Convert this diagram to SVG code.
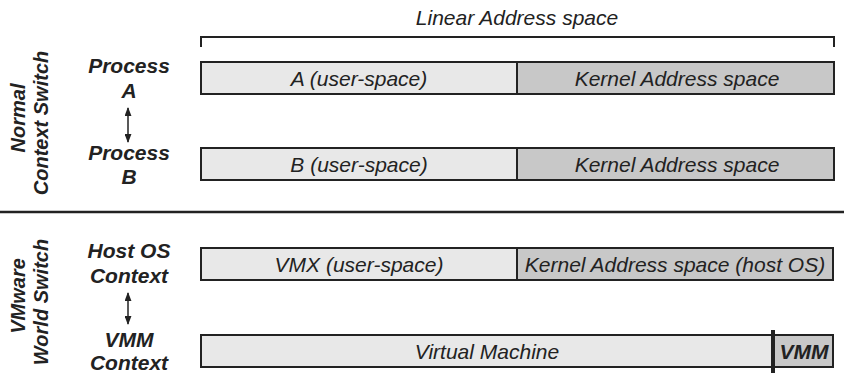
<svg xmlns="http://www.w3.org/2000/svg" width="844" height="373" viewBox="0 0 844 373">
<style>
.t{font-family:"Liberation Sans",Arial,sans-serif;font-style:italic;font-size:21px;fill:#222;text-anchor:middle}
.b{font-family:"Liberation Sans",Arial,sans-serif;font-style:italic;font-weight:bold;font-size:21px;fill:#222;text-anchor:middle}
.r{font-size:20px}
.u{fill:#e8e8e8;stroke:#222;stroke-width:2}
.k{fill:#c8c8c8;stroke:#222;stroke-width:2}
.c{stroke:#222;stroke-width:1.5;fill:none}
</style>
<defs>
<marker id="ah" viewBox="0 0 10 10" refX="9" refY="5" markerWidth="9" markerHeight="7" orient="auto-start-reverse" markerUnits="userSpaceOnUse" preserveAspectRatio="none"><path d="M0,0 L10,5 L0,10 z" fill="#222"/></marker>
</defs>
<g id="title">
<text class="t" x="517" y="25">Linear Address space</text>
<path d="M201,47 V37 H834 V47" fill="none" stroke="#222" stroke-width="2"/>
</g>
<g id="sep"><line x1="0" y1="212" x2="844" y2="212" stroke="#222" stroke-width="2.5"/></g>
<g id="label-normal">
<text class="b r" transform="translate(25,118) rotate(-90)">Normal</text>
<text class="b r" transform="translate(48,123) rotate(-90)">Context Switch</text>
</g>
<g id="label-vmware">
<text class="b r" transform="translate(25,296) rotate(-90)">VMware</text>
<text class="b r" transform="translate(48,302) rotate(-90)">World Switch</text>
</g>
<g id="procA"><text class="b" x="129" y="73">Process</text><text class="b" x="129" y="98">A</text></g>
<g id="procB"><text class="b" x="129" y="160">Process</text><text class="b" x="129" y="184">B</text></g>
<g id="hostctx"><text class="b" x="129" y="258">Host OS</text><text class="b" x="129" y="283">Context</text></g>
<g id="vmmctx"><text class="b" x="129" y="347">VMM</text><text class="b" x="129" y="370">Context</text></g>
<g id="connectors">
<line class="c" x1="128" y1="108" x2="128" y2="142" marker-start="url(#ah)" marker-end="url(#ah)"/>
<line class="c" x1="128" y1="293" x2="128" y2="324" marker-start="url(#ah)" marker-end="url(#ah)"/>
</g>
<g id="rowA">
<rect class="u" x="201" y="62" width="316" height="32"/>
<rect class="k" x="517" y="62" width="317" height="32"/>
<text class="t" x="359" y="86">A (user-space)</text>
<text class="t" x="677" y="86">Kernel Address space</text>
</g>
<g id="rowB">
<rect class="u" x="201" y="148" width="316" height="32"/>
<rect class="k" x="517" y="148" width="317" height="32"/>
<text class="t" x="359" y="172">B (user-space)</text>
<text class="t" x="677" y="172">Kernel Address space</text>
</g>
<g id="rowHost">
<rect class="u" x="201" y="248" width="316" height="32"/>
<rect class="k" x="517" y="248" width="316" height="32"/>
<text class="t" x="359" y="272">VMX (user-space)</text>
<text class="t" x="675" y="272">Kernel Address space (host OS)</text>
</g>
<g id="rowVM">
<rect class="u" x="201" y="335" width="572" height="32"/>
<rect class="k" x="773" y="335" width="60" height="32"/>
<line x1="773" y1="330" x2="773" y2="373" stroke="#222" stroke-width="4"/>
<text class="t" x="487" y="359">Virtual Machine</text>
<text class="b" x="804" y="359">VMM</text>
</g>
</svg>
